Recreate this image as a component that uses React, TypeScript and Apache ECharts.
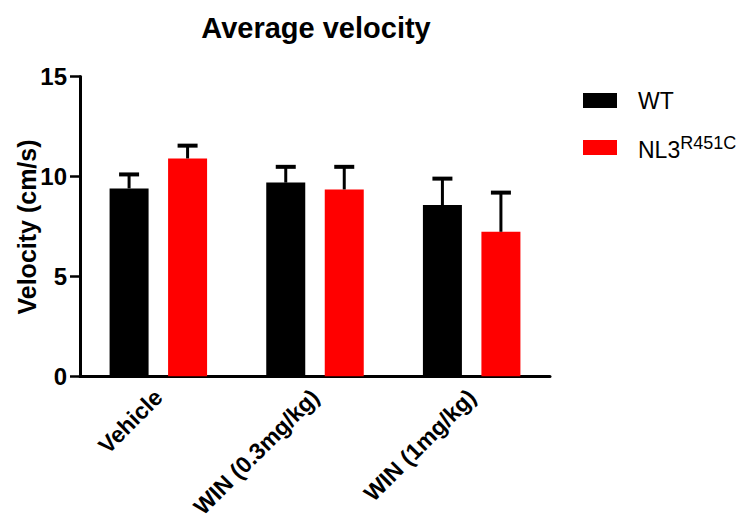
import React, { useEffect, useRef } from "react";
import * as echarts from "echarts";

const categories = ["Vehicle", "WIN (0.3mg/kg)", "WIN (1mg/kg)"];
const seriesNames = ["WT", "NL3R451C"];
const wtValues = [9.4, 9.69, 8.57];
const wtErrors = [0.7, 0.79, 1.32];
const nl3Values = [10.9, 9.35, 7.23];
const nl3Errors = [0.64, 1.13, 1.96];
const yTicks = [0, 5, 10, 15];

const FONT = "'Liberation Sans', Arial, Helvetica, sans-serif";
const BAR_W = 39;
const OFFSET = 29.25;

function errorSeries(name: string, values: number[], errors: number[], dir: number) {
  return {
    type: "custom",
    name: name + " error",
    z: 5,
    silent: true,
    data: values.map((v, i) => [i, v, v + errors[i]]),
    renderItem: (params: any, api: any) => {
      const idx = api.value(0);
      const base = api.coord([idx, api.value(1)]);
      const top = api.coord([idx, api.value(2)]);
      const x = base[0] + dir * OFFSET;
      return {
        type: "group",
        children: [
          {
            type: "line",
            shape: { x1: x, y1: base[1], x2: x, y2: top[1] },
            style: { stroke: "#000", lineWidth: 3 },
          },
          {
            type: "line",
            shape: { x1: x - 10, y1: top[1], x2: x + 10, y2: top[1] },
            style: { stroke: "#000", lineWidth: 4 },
          },
        ],
      };
    },
  };
}

export default function App() {
  const ref = useRef<HTMLDivElement>(null);
  useEffect(() => {
    if (!ref.current) return;
    const chart = echarts.init(ref.current, null, { renderer: "svg" });
    chart.setOption({
      animation: false,
      backgroundColor: "#fff",
      textStyle: { fontFamily: FONT },
      grid: { left: 80, top: 76.5, right: 193, bottom: 143, containLabel: false },
      legend: {
        data: seriesNames,
        orient: "vertical",
        left: 583,
        top: 89,
        padding: 0,
        itemGap: 22,
        itemWidth: 34,
        itemHeight: 15,
        icon: "rect",
        textStyle: {
          fontSize: 23,
          color: "#000",
          fontFamily: FONT,
          padding: [0, 0, 0, 16],
          rich: {
            base: { fontSize: 23, color: "#000", fontFamily: FONT, verticalAlign: "bottom" },
            sup: { fontSize: 18, color: "#000", fontFamily: FONT, verticalAlign: "top", padding: [0, 0, 9, 0] },
          },
        },
        formatter: (name: string) => (name === "NL3R451C" ? "{base|NL3}{sup|R451C}" : name),
      },
      xAxis: {
        type: "category",
        data: categories,
        axisLine: { lineStyle: { color: "#000", width: 3 } },
        axisTick: { alignWithLabel: true, length: 8, lineStyle: { color: "#000", width: 2.5 } },
        axisLabel: {
          rotate: 45,
          interval: 0,
          color: "#000",
          fontWeight: "bold",
          fontSize: 23,
          fontFamily: FONT,
          margin: 17,
        },
      },
      yAxis: {
        type: "value",
        min: 0,
        max: 15,
        interval: 5,
        splitLine: { show: false },
        axisLine: { show: true, lineStyle: { color: "#000", width: 3 } },
        axisTick: { show: true, length: 10, lineStyle: { color: "#000", width: 2.5 } },
        axisLabel: {
          color: "#000",
          fontWeight: "bold",
          fontSize: 24,
          fontFamily: FONT,
          margin: 13,
          formatter: (v: number) => (yTicks.includes(v) ? String(v) : ""),
        },
      },
      graphic: [
        {
          type: "text",
          x: 316,
          y: 28,
          style: {
            text: "Average velocity",
            font: `bold 29px ${FONT}`,
            fill: "#000",
            textAlign: "center",
            textVerticalAlign: "middle",
          },
        },
        {
          type: "text",
          x: 27,
          y: 227,
          rotation: Math.PI / 2,
          style: {
            text: "Velocity (cm/s)",
            font: `bold 25px ${FONT}`,
            fill: "#000",
            textAlign: "center",
            textVerticalAlign: "middle",
          },
        },
      ],
      series: [
        {
          type: "bar",
          name: "WT",
          data: wtValues,
          barWidth: BAR_W,
          barGap: "50%",
          itemStyle: { color: "#000" },
        },
        {
          type: "bar",
          name: "NL3R451C",
          data: nl3Values,
          barWidth: BAR_W,
          barGap: "50%",
          itemStyle: { color: "#ff0000" },
        },
        errorSeries("WT", wtValues, wtErrors, -1),
        errorSeries("NL3R451C", nl3Values, nl3Errors, 1),
      ],
    });
    return () => chart.dispose();
  }, []);
  return (
    <div
      ref={ref}
      style={{ position: "fixed", left: 0, top: 0, width: 743, height: 521, background: "#fff" }}
    />
  );
}
